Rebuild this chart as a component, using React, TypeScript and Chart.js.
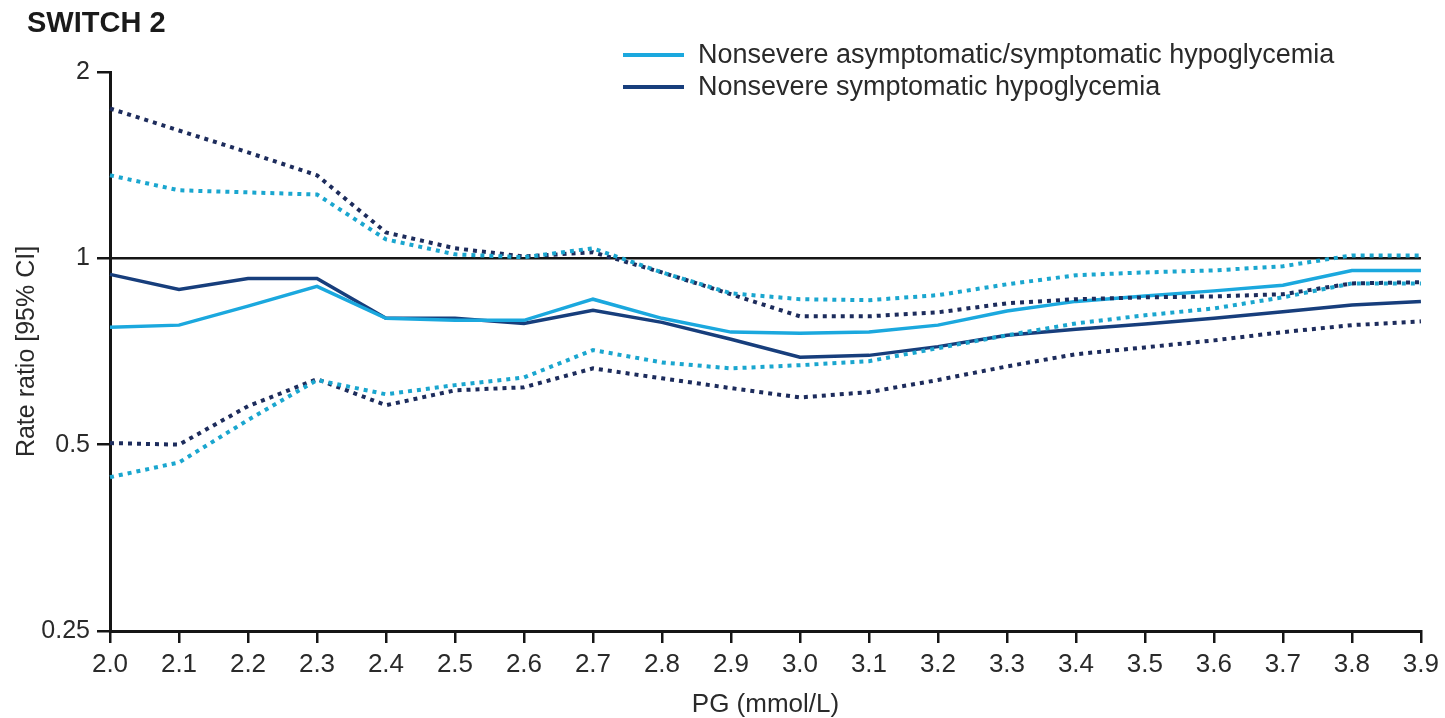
import React, { useEffect, useRef } from "react";
import { Chart, registerables } from "chart.js";

Chart.register(...registerables);

const pgLabels = ["2.0", "2.1", "2.2", "2.3", "2.4", "2.5", "2.6", "2.7", "2.8", "2.9", "3.0", "3.1", "3.2", "3.3", "3.4", "3.5", "3.6", "3.7", "3.8", "3.9"];

const asymSym = [0.774, 0.78, 0.837, 0.901, 0.8, 0.794, 0.794, 0.859, 0.8, 0.76, 0.757, 0.76, 0.78, 0.822, 0.852, 0.869, 0.886, 0.905, 0.956, 0.956];
const asymSymUpper = [1.362, 1.288, 1.278, 1.268, 1.073, 1.015, 1.004, 1.038, 0.949, 0.878, 0.859, 0.856, 0.872, 0.908, 0.939, 0.949, 0.956, 0.971, 1.011, 1.011];
const asymSymLower = [0.443, 0.468, 0.548, 0.636, 0.603, 0.624, 0.642, 0.711, 0.679, 0.664, 0.672, 0.682, 0.716, 0.751, 0.785, 0.809, 0.83, 0.865, 0.911, 0.911];

const sym = [0.942, 0.891, 0.928, 0.928, 0.8, 0.8, 0.785, 0.824, 0.788, 0.74, 0.692, 0.697, 0.72, 0.751, 0.768, 0.783, 0.8, 0.82, 0.841, 0.852];
const symUpper = [1.746, 1.609, 1.483, 1.362, 1.101, 1.038, 1.007, 1.023, 0.949, 0.875, 0.806, 0.806, 0.818, 0.846, 0.859, 0.865, 0.868, 0.875, 0.911, 0.915];
const symLower = [0.503, 0.5, 0.577, 0.638, 0.579, 0.612, 0.619, 0.664, 0.64, 0.617, 0.596, 0.608, 0.636, 0.669, 0.7, 0.718, 0.737, 0.76, 0.78, 0.791];

const yTicks = [0.25, 0.5, 1, 2];

const titleText = "SWITCH 2";
const legendItems = [
  { label: "Nonsevere asymptomatic/symptomatic hypoglycemia", color: "#1ba8de" },
  { label: "Nonsevere symptomatic hypoglycemia", color: "#173e7c" },
];

const FONT = "'Liberation Sans', Arial, Helvetica, sans-serif";
const LIGHT = "#1ba8de";
const DARK = "#173e7c";
const LIGHT_DOT = "#1aa6cf";
const DARK_DOT = "#1d2c5c";
const AXIS = "#151515";
const TEXT = "#2a2a2a";

const overlayPlugin = {
  id: "overlay",
  afterDraw(chart: any) {
    const ctx = chart.ctx;
    ctx.save();
    ctx.fillStyle = "#1a1a1a";
    ctx.font = `bold 29px ${FONT}`;
    ctx.textBaseline = "middle";
    ctx.textAlign = "left";
    ctx.fillText(titleText, 27, 24);

    ctx.font = `27px ${FONT}`;
    legendItems.forEach((it, i) => {
      const y = 55 + i * 32;
      ctx.strokeStyle = it.color;
      ctx.lineWidth = 4;
      ctx.beginPath();
      ctx.moveTo(623, y);
      ctx.lineTo(684, y);
      ctx.stroke();
      ctx.fillStyle = TEXT;
      ctx.fillText(it.label, 698, y + 1);
    });
    ctx.restore();
  },
};

export default function App() {
  const ref = useRef<HTMLCanvasElement | null>(null);

  useEffect(() => {
    document.body.style.margin = "0";
    const canvas = ref.current;
    if (!canvas) return;
    const solid = (label: string, data: number[], color: string) => ({
      label,
      data,
      borderColor: color,
      backgroundColor: color,
      borderWidth: 3.5,
      pointRadius: 0,
      tension: 0,
      fill: false,
    });
    const dotted = (label: string, data: number[], color: string) => ({
      label,
      data,
      borderColor: color,
      backgroundColor: color,
      borderWidth: 4,
      borderDash: [4, 5],
      borderCapStyle: "butt",
      pointRadius: 0,
      tension: 0,
      fill: false,
    });
    const chart = new Chart(canvas, {
      type: "line",
      data: {
        labels: pgLabels,
        datasets: [
          dotted("Asym/sym upper", asymSymUpper, LIGHT_DOT),
          dotted("Asym/sym lower", asymSymLower, LIGHT_DOT),
          dotted("Sym upper", symUpper, DARK_DOT),
          dotted("Sym lower", symLower, DARK_DOT),
          solid(legendItems[0].label, asymSym, LIGHT),
          solid(legendItems[1].label, sym, DARK),
        ] as any,
      },
      options: {
        animation: false,
        responsive: false,
        maintainAspectRatio: false,
        layout: { padding: { left: 0, top: 72, right: 23, bottom: 0 } },
        plugins: {
          legend: { display: false },
          tooltip: { enabled: false },
          title: { display: false },
        },
        scales: {
          x: {
            type: "category",
            offset: false,
            border: { display: true, color: AXIS, width: 3 },
            grid: {
              drawOnChartArea: false,
              drawTicks: true,
              tickLength: 12,
              color: AXIS,
              lineWidth: 2.5,
            },
            ticks: {
              color: TEXT,
              font: { family: FONT, size: 26 },
              padding: 6,
              maxRotation: 0,
              autoSkip: false,
            },
            title: {
              display: true,
              text: "PG (mmol/L)",
              color: TEXT,
              font: { family: FONT, size: 26, lineHeight: 1 },
              padding: { top: 0, bottom: 0 },
            },
            afterFit(scale: any) {
              scale.height = 87;
            },
          },
          y: {
            type: "logarithmic",
            min: 0.25,
            max: 2,
            border: { display: true, color: AXIS, width: 3 },
            grid: {
              drawOnChartArea: true,
              drawTicks: true,
              tickLength: 13,
              lineWidth: 2.5,
              color: (c: any) => (c.tick && c.tick.value === 1 ? AXIS : "rgba(0,0,0,0)"),
              tickColor: AXIS,
            },
            afterBuildTicks(scale: any) {
              scale.ticks = yTicks.map((v) => ({ value: v }));
            },
            ticks: {
              color: TEXT,
              font: { family: FONT, size: 25 },
              padding: 7,
              callback: (v: any) => String(v),
            },
            title: {
              display: true,
              text: "Rate ratio [95% CI]",
              color: TEXT,
              font: { family: FONT, size: 25, lineHeight: 1.2 },
              padding: { top: 12, bottom: 0 },
            },
            afterFit(scale: any) {
              scale.width = 110;
            },
          },
        },
      },
      plugins: [overlayPlugin],
    });
    return () => chart.destroy();
  }, []);

  return (
    <div style={{ position: "absolute", left: 0, top: 0, width: 1445, height: 718 }}>
      <canvas ref={ref} width={1445} height={718} style={{ width: 1445, height: 718, display: "block" }} />
    </div>
  );
}
